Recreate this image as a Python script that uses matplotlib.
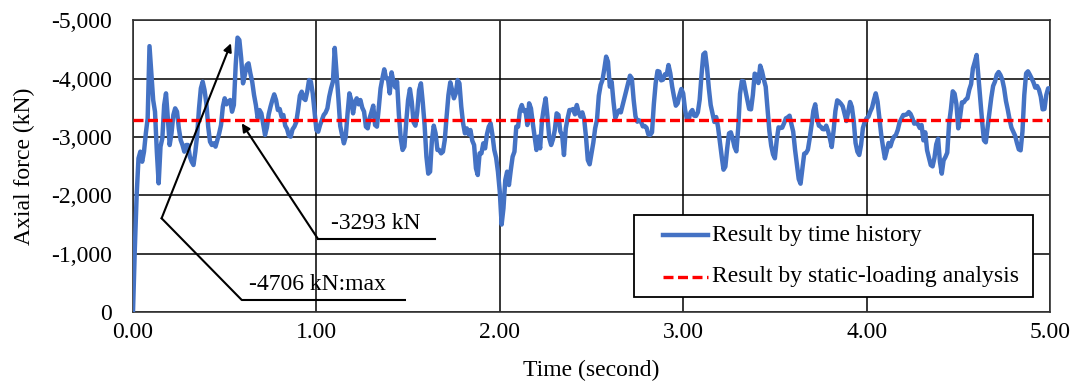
import numpy as np
import matplotlib
matplotlib.use("Agg")
import matplotlib.pyplot as plt
from matplotlib.patches import Rectangle

plt.rcParams['font.family'] = ['Liberation Serif', 'DejaVu Serif']

# axial force (kN), sampled every 0.01 s; one list per second of the record
force_s1 = [0, -1086, -2007, -2636, -2750, -2578, -2750, -3064, -3322, -4560,
            -4100, -3636, -3436, -2750, -2207, -2836, -2979, -3550, -3750, -3322,
            -2864, -3064, -3379, -3493, -3436, -3150, -2950, -2864, -2750, -2864,
            -2864, -2664, -2578, -2521, -2750, -3036, -3493, -3836, -3950, -3808,
            -3579, -3179, -2921, -2864, -2893, -2836, -2950, -3064, -3207, -3522,
            -3665, -3562, -3607, -3636, -3436, -3550, -4236, -4706, -4665, -4351,
            -3922, -4065, -4236, -4265, -4093, -3950, -3722, -3550, -3322, -3464,
            -3407, -3219, -3036, -3162, -3390, -3522, -3636, -3733, -3636, -3464,
            -3482, -3350, -3379, -3196, -3139, -3024, -3007, -3133, -3179, -3253,
            -3464, -3710, -3779, -3665, -3636, -3779, -3979, -3950, -3750, -3436]
force_s2 = [-3121, -3093, -3207, -3293, -3379, -3419, -3493, -3693, -3836, -3950,
            -4530, -4093, -3665, -3190, -3036, -2893, -3007, -3407, -3750, -3636,
            -3407, -3596, -3665, -3562, -3636, -3505, -3436, -3179, -3150, -3322,
            -3424, -3539, -3207, -3179, -3493, -3836, -4008, -4162, -4008, -4008,
            -3750, -4110, -3950, -3853, -3950, -3379, -2979, -2779, -2836, -3264,
            -3636, -3825, -3607, -3253, -3196, -3436, -3808, -3922, -3596, -3207,
            -2664, -2373, -2407, -2950, -3196, -3064, -2779, -2779, -2721, -2750,
            -2950, -3350, -3722, -3939, -3808, -3665, -3750, -3979, -3922, -3522,
            -3236, -3064, -3150, -3047, -3121, -2939, -2864, -2464, -2350, -2721,
            -2721, -2893, -2807, -3047, -3179, -3236, -3036, -2779, -2647, -2407]
force_s3 = [-2064, -1500, -1778, -2264, -2407, -2178, -2435, -2664, -2750, -3179,
            -3179, -3464, -3550, -3447, -3464, -3207, -3579, -3493, -3236, -3007,
            -2779, -3007, -2807, -3282, -3493, -3665, -3350, -2979, -2864, -2961,
            -3121, -3407, -3379, -3099, -3036, -2693, -3150, -3322, -3464, -3464,
            -3482, -3390, -3550, -3424, -3350, -3424, -3310, -3007, -2607, -2533,
            -2721, -2904, -3150, -3293, -3710, -3893, -3979, -4168, -4380, -4293,
            -3865, -3950, -3607, -3327, -3402, -3459, -3424, -3550, -3676, -3802,
            -3927, -4053, -4008, -3636, -3356, -3264, -3287, -3264, -3184, -3190,
            -3162, -3047, -3036, -3082, -3562, -3922, -4133, -4122, -3973, -3985,
            -4076, -4065, -4236, -4093, -3865, -3693, -3539, -3579, -3722, -3825]
force_s4 = [-3750, -3476, -3310, -3299, -3424, -3464, -3367, -3362, -3424, -3642,
            -4065, -4419, -4450, -4191, -3836, -3550, -3402, -3259, -3344, -3173,
            -2921, -2670, -2441, -2493, -2807, -3064, -3082, -2973, -2830, -2756,
            -3150, -3745, -3962, -3956, -3790, -3636, -3482, -3476, -3722, -4088,
            -4065, -3927, -4225, -4128, -3985, -3865, -3476, -3104, -2853, -2704,
            -2636, -2944, -3167, -3156, -3162, -3236, -3322, -3339, -3367, -3224,
            -3093, -2784, -2533, -2281, -2201, -2464, -2716, -2727, -2784, -2979,
            -3207, -3453, -3562, -3327, -3196, -3179, -3139, -3133, -3196, -3104,
            -2979, -2830, -3104, -3447, -3630, -3607, -3573, -3527, -3402, -3276,
            -3436, -3602, -3516, -3276, -2899, -2750, -2693, -2864, -3156, -3259]
force_s5 = [-3322, -3350, -3436, -3505, -3636, -3750, -3607, -3322, -3036, -2824,
            -2636, -2761, -2899, -2841, -2944, -3007, -3036, -3122, -3253, -3316,
            -3379, -3379, -3390, -3430, -3396, -3322, -3230, -3247, -3219, -3156,
            -3207, -2944, -3082, -2773, -2647, -2521, -2498, -2641, -2876, -2973,
            -2578, -2373, -2601, -2658, -2733, -3236, -3482, -3785, -3745, -3562,
            -3150, -3350, -3596, -3596, -3642, -3665, -3813, -3910, -4179, -4288,
            -4408, -4025, -3653, -3276, -2944, -2910, -3173, -3424, -3676, -3876,
            -3950, -4071, -4116, -4065, -3985, -3836, -3619, -3470, -3299, -3162,
            -3093, -3024, -2899, -2790, -2773, -3093, -3722, -4093, -4128, -4071,
            -4008, -3939, -3848, -3876, -3813, -3693, -3476, -3482, -3722, -3836,
            -3836]
dt = 0.01

static_force = -3293
max_force = -4706

x_ticks = [0, 1, 2, 3, 4, 5]
y_ticks = [0, -1000, -2000, -3000, -4000, -5000]

force = np.array(force_s1 + force_s2 + force_s3 + force_s4 + force_s5)
time = np.arange(len(force)) * dt

fig = plt.figure(figsize=(10.76, 3.85), dpi=100)
ax = fig.add_axes([0.1236, 0.1896, 0.8522, 0.7572])

blue = '#4472C4'
red = '#FF0000'
ax.plot(time, force, color=blue, lw=3.2, zorder=3, solid_joinstyle='round')
ax.axhline(static_force, color=red, lw=2.4, dashes=(3.0, 1.35), zorder=4)

ax.set_xlim(0, 5)
ax.set_ylim(0, -5000)
ax.set_xticks(x_ticks, labels=[f"{v:.2f}" for v in x_ticks])
ax.set_yticks(y_ticks, labels=[f"{v:,}" for v in y_ticks])
ax.tick_params(length=0, labelsize=17)
ax.tick_params(axis='y', pad=15)
ax.tick_params(axis='x', pad=7)
ax.grid(True, color='black', lw=1.1)
for s in ax.spines.values():
    s.set_color('#333333')
    s.set_linewidth(1.2)

ax.set_xlabel('Time (second)', fontsize=17, labelpad=12)
ax.set_ylabel('Axial force (kN)', fontsize=17, labelpad=12)

# leader for the peak value
ax.plot([1.483, 0.593, 0.156], [-206, -206, -1607], color='black', lw=1.5, zorder=5)
ax.annotate('', xy=(0.534, -4609), xytext=(0.156, -1607),
            arrowprops=dict(arrowstyle='-|>', color='black', lw=1.5,
                            mutation_scale=12, shrinkA=0, shrinkB=0), zorder=5)
ax.text(0.63, -300, f"{max_force} kN:max", fontsize=17, va='bottom', ha='left', zorder=5)

# leader for the static-loading value
ax.plot([1.647, 1.009], [-1252, -1252], color='black', lw=1.5, zorder=5)
ax.annotate('', xy=(0.593, -3237), xytext=(1.009, -1252),
            arrowprops=dict(arrowstyle='-|>', color='black', lw=1.5,
                            mutation_scale=12, shrinkA=0, shrinkB=0), zorder=5)
ax.text(1.08, -1340, f"{static_force} kN", fontsize=17, va='bottom', ha='left', zorder=5)

# legend box drawn in axes coordinates
tr = ax.transAxes
ax.add_patch(Rectangle((0.5463, 0.052), 0.4352, 0.281, transform=tr, facecolor='white',
                       edgecolor='black', lw=1.3, zorder=6))
ax.plot([0.578, 0.627], [0.263, 0.263], transform=tr, color=blue, lw=3.2, zorder=7)
ax.plot([0.578, 0.627], [0.121, 0.121], transform=tr, color=red, lw=2.4,
        dashes=(3.0, 1.35), zorder=7)
ax.text(0.631, 0.263, 'Result by time history', transform=tr, fontsize=17,
        va='center', ha='left', zorder=7)
ax.text(0.631, 0.121, 'Result by static-loading analysis', transform=tr, fontsize=17,
        va='center', ha='left', zorder=7)

fig.savefig('out.png', dpi=100)
